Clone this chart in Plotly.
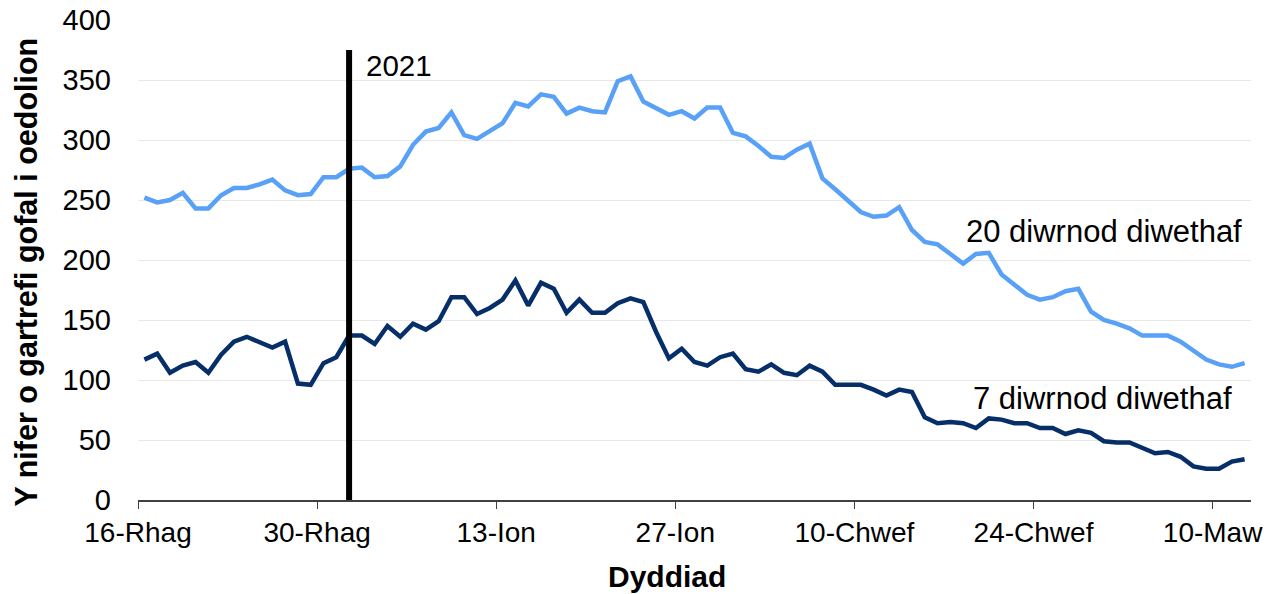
import plotly.graph_objects as go
import pandas as pd

# Dates (daily, 16 Dec 2020 - 12 Mar 2021)
dates = pd.date_range("2020-12-16", "2021-03-12", freq="D")

last_20_days = [252, 248, 250, 256, 243, 243, 254, 260, 260, 263,
                267, 258, 254, 255, 269, 269, 276, 277, 269, 270,
                278, 296, 307, 310, 323, 304, 301, 307, 314, 331,
                328, 338, 336, 322, 327, 324, 323, 349, 353, 332,
                327, 321, 324, 318, 327, 327, 306, 303, 295, 286,
                285, 292, 297, 268, 259, 249, 240, 236, 237, 244,
                225, 215, 213, 205, 197, 205, 206, 188, 179, 171,
                167, 169, 174, 176, 157, 150, 147, 143, 137, 137,
                137, 132, 124, 117, 113, 111, 114]

last_7_days = [117, 122, 106, 112, 115, 106, 121, 132, 136, 132,
               127, 132, 97, 96, 114, 119, 137, 137, 130, 145,
               136, 147, 142, 149, 169, 169, 155, 160, 167, 183,
               162, 181, 176, 156, 167, 156, 156, 164, 168, 165,
               140, 118, 126, 115, 112, 119, 122, 109, 107, 113,
               106, 104, 112, 107, 96, 96, 96, 92, 87, 92,
               90, 69, 64, 65, 64, 60, 68, 67, 64, 64,
               60, 60, 55, 58, 56, 49, 48, 48, 43, 39,
               40, 36, 28, 26, 26, 32, 34]

tick_dates = ["2020-12-16", "2020-12-30", "2021-01-13", "2021-01-27",
              "2021-02-10", "2021-02-24", "2021-03-10"]
tick_labels = ["16-Rhag", "30-Rhag", "13-Ion", "27-Ion",
               "10-Chwef", "24-Chwef", "10-Maw"]

year_marker_date = "2021-01-01"
year_marker_top = 375

FONT = "Liberation Sans, Arial, sans-serif"
LIGHT = "#58A1F7"
DARK = "#062F69"

half_day = pd.Timedelta(hours=12)
tickvals = [pd.Timestamp(d) - half_day for d in tick_dates]
x_range = [dates[0] - half_day, dates[-1] + half_day]

fig = go.Figure()
fig.add_trace(go.Scatter(x=dates, y=last_20_days, mode="lines",
                         line=dict(color=LIGHT, width=4.5),
                         name="20 diwrnod diwethaf", hoverinfo="x+y"))
fig.add_trace(go.Scatter(x=dates, y=last_7_days, mode="lines",
                         line=dict(color=DARK, width=4.5),
                         name="7 diwrnod diwethaf", hoverinfo="x+y"))

fig.add_shape(type="line", xref="x", yref="y",
              x0=year_marker_date, x1=year_marker_date,
              y0=0, y1=year_marker_top,
              line=dict(color="black", width=6))

annos = [
    dict(text="2021", xref="x", yref="y", x=year_marker_date, y=362,
         xanchor="left", yanchor="middle", xshift=15, showarrow=False,
         font=dict(size=29.5, color="black", family=FONT)),
    dict(text="20 diwrnod diwethaf", xref="paper", yref="y", x=0.8675, y=224,
         xanchor="center", yanchor="middle", showarrow=False,
         font=dict(size=31, color="black", family=FONT)),
    dict(text="7 diwrnod diwethaf", xref="paper", yref="y", x=0.8666, y=85,
         xanchor="center", yanchor="middle", showarrow=False,
         font=dict(size=31, color="black", family=FONT)),
    dict(text="<b>Dyddiad</b>", xref="paper", yref="paper", x=0.475, y=-0.16,
         xanchor="center", yanchor="middle", showarrow=False,
         font=dict(size=30, color="black", family=FONT)),
    dict(text="<b>Y nifer o gartrefi gofal i oedolion</b>", xref="paper",
         yref="paper", x=-0.101, y=0.475, textangle=-90,
         xanchor="center", yanchor="middle", showarrow=False,
         font=dict(size=30.5, color="black", family=FONT)),
]

fig.update_layout(
    width=1279, height=594,
    margin=dict(l=137.5, r=28, t=20, b=94),
    paper_bgcolor="white", plot_bgcolor="white",
    showlegend=False,
    font=dict(family=FONT, size=29, color="black"),
    annotations=annos,
    xaxis=dict(type="date", range=x_range, tickmode="array",
               tickvals=tickvals, ticktext=tick_labels,
               showgrid=False, showline=True, linecolor="#404040",
               linewidth=1.5, ticks="outside", ticklen=7, tickcolor="#404040",
               tickfont=dict(size=28, family=FONT, color="black"),
               zeroline=False, fixedrange=True, automargin=False),
    yaxis=dict(range=[0, 400], dtick=50, tick0=0,
               showgrid=True, gridcolor="#E8E8E8", gridwidth=1.2,
               showline=False, zeroline=False, ticks="",
               ticklabelstandoff=26,
               tickfont=dict(size=29, family=FONT, color="black"),
               fixedrange=True, automargin=False),
)

fig.write_html("out.html",
               config={"displayModeBar": False},
               post_script="document.body.style.margin='0';"
                           "document.body.style.overflow='hidden';")
